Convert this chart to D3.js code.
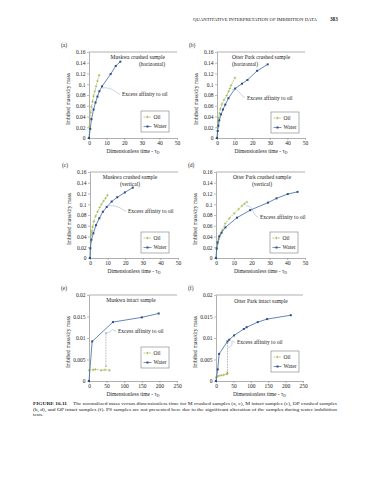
<!DOCTYPE html>
<html>
<head>
<meta charset="utf-8">
<script src="https://cdn.jsdelivr.net/npm/d3@7"></script>
<style>
  body { margin: 0; background: #fff; }
  svg { display: block; font-family: "Liberation Serif", "Times New Roman", serif; }
</style>
</head>
<body>
<div id="page"></div>
<script>
// tick values
const timeTicksCrushed = [0, 10, 20, 30, 40, 50];
const timeTicksIntact = [0, 50, 100, 150, 200, 250];
const massTicksCrushed = [0, 0.02, 0.04, 0.06, 0.08, 0.1, 0.12, 0.14, 0.16];
const massTicksIntact = [0, 0.005, 0.01, 0.015, 0.02];

// [tD, imbibed mass / dry mass]
const waterA = [[0,0],[0.7,0.017],[1.4,0.035],[2.6,0.053],[3.7,0.066],[4.8,0.077],[5.9,0.087],[7.4,0.096],[12.3,0.119],[15.2,0.134],[17.8,0.142]];
const oilA = [[0,0],[0.3,0.022],[0.6,0.036],[1.0,0.048],[1.4,0.058],[2.0,0.068],[2.6,0.078],[3.3,0.087],[4.0,0.096],[4.8,0.106],[5.8,0.117]];
const waterB = [[0,0],[0.4,0.013],[0.8,0.023],[1.3,0.033],[2.3,0.044],[3.4,0.053],[4.7,0.062],[6.5,0.074],[10.3,0.092],[14.2,0.101],[17.3,0.108],[22.8,0.125],[28.8,0.137]];
const oilB = [[0,0],[0.3,0.02],[0.6,0.03],[1.0,0.038],[1.4,0.046],[1.9,0.054],[2.8,0.063],[4.0,0.071],[5.5,0.079],[6.6,0.087],[7.3,0.092],[8.0,0.098],[10.2,0.112]];
const waterC = [[0,0],[0.2,0.018],[0.8,0.034],[1.9,0.046],[3.4,0.061],[5.3,0.074],[7.3,0.086],[9.5,0.095],[12.3,0.105],[15.5,0.113],[19.8,0.122],[24.3,0.131]];
const oilC = [[0,0],[0.3,0.03],[0.6,0.043],[1.0,0.05],[1.5,0.058],[2.2,0.068],[3.2,0.078],[4.3,0.086],[5.5,0.094],[6.5,0.1],[7.7,0.106],[8.8,0.111],[9.9,0.117]];
const waterD = [[0,0],[0.4,0.018],[0.9,0.029],[1.8,0.04],[3.1,0.047],[5.3,0.057],[11.8,0.075],[19.2,0.089],[29.2,0.103],[34,0.111],[40.3,0.119],[45.8,0.123]];
const oilD = [[0,0],[0.4,0.016],[0.9,0.026],[1.6,0.035],[2.4,0.043],[3.5,0.052],[5.2,0.064],[7.5,0.074],[10.2,0.083],[12.7,0.091],[14.6,0.097],[16.0,0.101],[17.4,0.104]];
const waterE = [[0,0],[9,0.0092],[68,0.0137],[150,0.0148],[198,0.0157]];
const oilE = [[0,0.0025],[12,0.0026],[18,0.0027],[35,0.0025],[45,0.0026],[58,0.0025]];
const waterF = [[0,0],[5,0.0027],[9,0.0063],[33,0.0092],[38,0.0096],[52,0.0106],[80,0.0121],[88,0.0125],[120,0.0137],[147,0.0144],[215,0.0153]];
const oilF = [[0,0.0008],[3,0.001],[8,0.0012],[15,0.0013],[22,0.0014],[30,0.0016],[33,0.0017]];

const titles = {
  a: ["Muskwa crushed sample", "(horizontal)"],
  b: ["Otter Park crushed sample", "(horizontal)"],
  c: ["Muskwa crushed sample", "(vertical)"],
  d: ["Otter Park crushed sample", "(vertical)"],
  e: ["Muskwa intact sample"],
  f: ["Otter Park intact sample"]
};

const WATER = "#3f66a6", OIL = "#9ab447", AXIS = "#7a7a7a";
const FS = 5.5;

const svg = d3.select("#page").append("svg")
    .attr("width", 370)
    .attr("height", 480);

const defs = svg.append("defs");
defs.append("marker")
    .attr("id", "arr")
    .attr("viewBox", "0 0 6 6")
    .attr("refX", 5).attr("refY", 3)
    .attr("markerWidth", 4).attr("markerHeight", 4)
    .attr("orient", "auto-start-reverse")
  .append("path")
    .attr("d", "M0,0.5L5,3L0,5.5")
    .attr("fill", "none")
    .attr("stroke", "#555")
    .attr("stroke-width", 0.9);

// page header
svg.append("text")
    .attr("x", 193).attr("y", 21)
    .attr("font-size", 4.6)
    .attr("textLength", 124).attr("lengthAdjust", "spacingAndGlyphs")
    .attr("fill", "#222")
    .text("QUANTITATIVE INTERPRETATION OF IMBIBITION DATA");
svg.append("text")
    .attr("x", 330).attr("y", 21)
    .attr("font-size", 5.2).attr("font-weight", "bold")
    .attr("fill", "#222")
    .text("383");

// layout of the six panels
const panels = [
  { id: "a", left: 89,  right: 177, top: 52,  bottom: 138, xMax: 50,  xTicks: timeTicksCrushed, yMax: 0.16, yTicks: massTicksCrushed, water: waterA, oil: oilA,
    title: { anchor: "end", dx: 76, dy: 5 }, legend: [52, 59], excess: { from: [7.5, 0.093], text: [33, 44] } },
  { id: "b", left: 217, right: 305, top: 52,  bottom: 138, xMax: 50,  xTicks: timeTicksCrushed, yMax: 0.16, yTicks: massTicksCrushed, water: waterB, oil: oilB,
    title: { anchor: "start", dx: 15, dy: 5 }, legend: [54, 60], excess: { from: [8.5, 0.09], text: [30, 47.5] } },
  { id: "c", left: 90,  right: 178, top: 172, bottom: 258, xMax: 50,  xTicks: timeTicksCrushed, yMax: 0.16, yTicks: massTicksCrushed, water: waterC, oil: oilC,
    title: { anchor: "middle", dx: 40, dy: 5 }, legend: [51, 60], excess: { from: [9.8, 0.097], text: [38, 41] } },
  { id: "d", left: 216, right: 305, top: 172, bottom: 258, xMax: 50,  xTicks: timeTicksCrushed, yMax: 0.16, yTicks: massTicksCrushed, water: waterD, oil: oilD,
    title: { anchor: "middle", dx: 46, dy: 5 }, legend: [54, 60], excess: { from: [16.7, 0.097], text: [44, 47] } },
  { id: "e", left: 89,  right: 177, top: 295, bottom: 381, xMax: 250, xTicks: timeTicksIntact, yMax: 0.02, yTicks: massTicksIntact, water: waterE, oil: oilE,
    title: { anchor: "middle", dx: 42, dy: 5 }, legend: [52, 52], arrow: { t: 48, from: 0.0033, to: 0.0113 }, excess: { from: [50, 0.0112], text: [29, 38] } },
  { id: "f", left: 216, right: 303, top: 295, bottom: 381, xMax: 250, xTicks: timeTicksIntact, yMax: 0.02, yTicks: massTicksIntact, water: waterF, oil: oilF,
    title: { anchor: "middle", dx: 45, dy: 6 }, legend: [55, 56], arrow: { t: 33, from: 0.0019, to: 0.0089 }, excess: { from: [35, 0.0078], text: [21, 49] } }
];

const massFmt = d => d === 0 ? "0" : String(+d.toFixed(3));

panels.forEach(p => {
    const g = svg.append("g");
    const x = d3.scaleLinear().domain([0, p.xMax]).range([p.left, p.right]);
    const y = d3.scaleLinear().domain([0, p.yMax]).range([p.bottom, p.top]);

    // panel letter
    g.append("text")
        .attr("x", p.left - 28).attr("y", p.top - 5)
        .attr("font-size", FS).attr("fill", "#222")
        .text(`(${p.id})`);

    // top border line
    g.append("line")
        .attr("x1", p.left).attr("x2", p.right)
        .attr("y1", y(p.yMax)).attr("y2", y(p.yMax))
        .attr("stroke", AXIS).attr("stroke-width", 0.6);

    const xAxis = g.append("g")
        .attr("transform", `translate(0,${p.bottom})`)
        .call(d3.axisBottom(x).tickValues(p.xTicks).tickSize(2).tickSizeOuter(0).tickPadding(1.5).tickFormat(d3.format("d")));
    const yAxis = g.append("g")
        .attr("transform", `translate(${p.left},0)`)
        .call(d3.axisLeft(y).tickValues(p.yTicks).tickSize(2).tickSizeOuter(0).tickPadding(1.5).tickFormat(massFmt));
    [xAxis, yAxis].forEach(a => {
        a.attr("font-size", FS).attr("font-family", null);
        a.select(".domain").attr("stroke", AXIS).attr("stroke-width", 0.6);
        a.selectAll(".tick line").attr("stroke", AXIS).attr("stroke-width", 0.5);
        a.selectAll(".tick text").attr("fill", "#222");
    });

    // axis titles
    const xt = g.append("text")
        .attr("x", (p.left + p.right) / 2).attr("y", p.bottom + 15)
        .attr("text-anchor", "middle")
        .attr("font-size", FS).attr("fill", "#222");
    xt.append("tspan").text("Dimensionless time - τ");
    xt.append("tspan").attr("font-size", 3.8).attr("dy", 1.2).text("D");

    g.append("text")
        .attr("transform", `translate(${p.left - 19},${(p.top + p.bottom) / 2 + 4}) rotate(-90)`)
        .attr("text-anchor", "middle")
        .attr("font-size", FS).attr("fill", "#222")
        .text("Imbibed mass/dry mass");

    // sample title
    titles[p.id].forEach((t, i) => {
        g.append("text")
            .attr("x", p.left + p.title.dx).attr("y", p.top + p.title.dy + 2 + i * 7)
            .attr("text-anchor", p.title.anchor)
            .attr("font-size", FS).attr("fill", "#222")
            .text(t);
    });

    const line = d3.line().x(d => x(d[0])).y(d => y(d[1]));

    // oil series
    g.append("path")
        .attr("d", line(p.oil))
        .attr("fill", "none").attr("stroke", OIL)
        .attr("stroke-width", 0.7).attr("stroke-dasharray", "1.8,0.9");
    g.selectAll(".oilpt").data(p.oil).enter().append("path")
        .attr("transform", d => `translate(${x(d[0])},${y(d[1])})`)
        .attr("d", "M-1.3,0H1.3M0,-1.3V1.3")
        .attr("stroke", OIL).attr("stroke-width", 0.6);

    // water series
    g.append("path")
        .attr("d", line(p.water))
        .attr("fill", "none").attr("stroke", WATER)
        .attr("stroke-width", 0.8);
    g.selectAll(".waterpt").data(p.water).enter().append("rect")
        .attr("x", d => x(d[0]) - 1).attr("y", d => y(d[1]) - 1)
        .attr("width", 2).attr("height", 2)
        .attr("fill", "#2c4f8c");

    // excess affinity arrow (intact samples)
    if (p.arrow) {
        g.append("line")
            .attr("x1", x(p.arrow.t)).attr("x2", x(p.arrow.t))
            .attr("y1", y(p.arrow.from)).attr("y2", y(p.arrow.to))
            .attr("stroke", "#555").attr("stroke-width", 0.5)
            .attr("stroke-dasharray", "0.8,0.8")
            .attr("marker-start", "url(#arr)")
            .attr("marker-end", "url(#arr)");
    }

    // callout
    const sx = x(p.excess.from[0]), sy = y(p.excess.from[1]);
    const tx = p.left + p.excess.text[0], ty = p.top + p.excess.text[1];
    g.append("path")
        .attr("d", `M${sx},${sy} C${sx + 8},${sy - 1} ${tx - 9},${ty - 6} ${tx - 2},${ty - 1.5}`)
        .attr("fill", "none").attr("stroke", "#8aa6cf").attr("stroke-width", 0.5);
    g.append("text")
        .attr("x", tx).attr("y", ty)
        .attr("font-size", FS).attr("fill", "#222")
        .text("Excess affinity to oil");

    // legend
    const lx = p.left + p.legend[0], ly = p.top + p.legend[1];
    const lg = g.append("g").attr("transform", `translate(${lx},${ly})`);
    lg.append("rect")
        .attr("width", 28).attr("height", 21)
        .attr("fill", "#fff").attr("stroke", "#666").attr("stroke-width", 0.5);
    [["Oil", OIL, 6], ["Water", WATER, 15.5]].forEach(([name, col, yy]) => {
        lg.append("line")
            .attr("x1", 2.5).attr("x2", 10.5).attr("y1", yy).attr("y2", yy)
            .attr("stroke", col).attr("stroke-width", 0.7)
            .attr("stroke-dasharray", name === "Oil" ? "1.8,0.9" : null);
        if (name === "Oil") {
            lg.append("path").attr("transform", `translate(6.5,${yy})`)
                .attr("d", "M-1.3,0H1.3M0,-1.3V1.3")
                .attr("stroke", col).attr("stroke-width", 0.6);
        } else {
            lg.append("rect").attr("x", 5.5).attr("y", yy - 1).attr("width", 2).attr("height", 2).attr("fill", "#2c4f8c");
        }
        lg.append("text")
            .attr("x", 12.5).attr("y", yy + 1.8)
            .attr("font-size", FS).attr("fill", "#222")
            .text(name);
    });
});

// caption
const cap = svg.append("g").attr("font-size", 5).attr("fill", "#222");
cap.append("text").attr("x", 33).attr("y", 405)
    .attr("font-weight", "bold")
    .attr("textLength", 34).attr("lengthAdjust", "spacingAndGlyphs")
    .text("FIGURE 16.11");
cap.append("text").attr("x", 73).attr("y", 405)
    .attr("textLength", 264).attr("lengthAdjust", "spacingAndGlyphs")
    .text("The normalized mass versus dimensionless time for M crushed samples (a, c), M intact samples (e), OP crushed samples");
cap.append("text").attr("x", 33).attr("y", 410.5)
    .attr("textLength", 304).attr("lengthAdjust", "spacingAndGlyphs")
    .text("(b, d), and OP intact samples (f). PS samples are not presented here due to the significant alteration of the samples during water imbibition");
cap.append("text").attr("x", 33).attr("y", 416)
    .text("tests.");
</script>
</body>
</html>
